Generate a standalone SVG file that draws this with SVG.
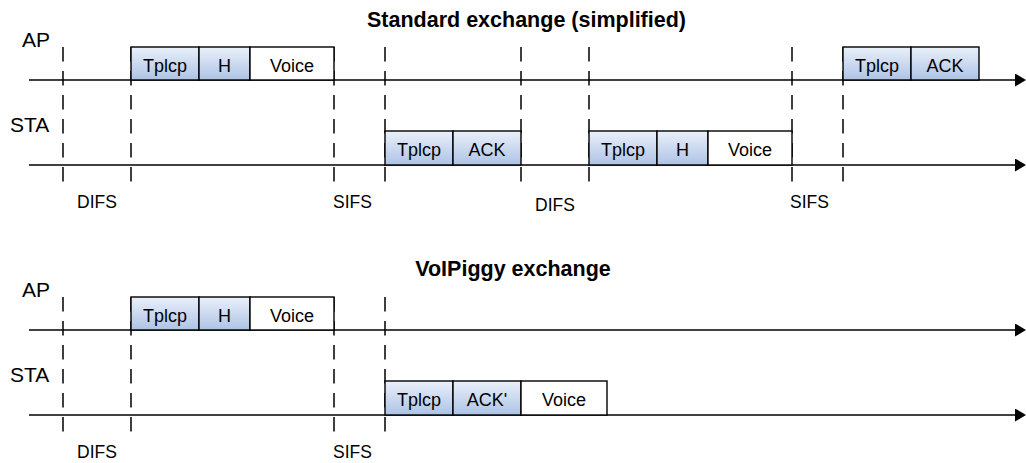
<svg xmlns="http://www.w3.org/2000/svg" width="1026" height="463" viewBox="0 0 1026 463">
<defs>
<linearGradient id="blueFill" x1="0" y1="0" x2="0" y2="1">
<stop offset="0" stop-color="#eaf0fa"/>
<stop offset="1" stop-color="#adc3e5"/>
</linearGradient>
<marker id="arrow" markerUnits="userSpaceOnUse" markerWidth="12" markerHeight="14" refX="0" refY="6.5" orient="auto">
<path d="M0,0 L11,6.5 L0,13 Z" fill="#000"/>
</marker>
</defs>
<style>
text{font-family:"Liberation Sans",Arial,Helvetica,sans-serif;fill:#000}
.title{font-size:21.5px;font-weight:bold;text-anchor:middle}
.lane{font-size:21px}
.ifs{font-size:17.5px}
.lbl{font-size:18px;text-anchor:middle}
.blue{fill:url(#blueFill);stroke:#000;stroke-width:1.4}
.white{fill:#fff;stroke:#000;stroke-width:1.4}
.axis{stroke:#000;stroke-width:1.6;fill:none}
.dash{stroke:#000;stroke-width:1.5;stroke-dasharray:14.5 9.5;fill:none}
</style>
<rect width="1026" height="463" fill="#fff"/>

<g id="titles">
<text class="title" x="526.5" y="26.5">Standard exchange (simplified)</text>
<text class="title" x="513" y="275.7">VoIPiggy exchange</text>
</g>

<g id="lane-labels">
<text class="lane" x="22" y="47">AP</text>
<text class="lane" x="10" y="131.5">STA</text>
<text class="lane" x="22" y="297">AP</text>
<text class="lane" x="10" y="381.5">STA</text>
</g>

<g id="connectors">
<line class="axis" x1="29" y1="80" x2="1015" y2="80" marker-end="url(#arrow)"/>
<line class="axis" x1="29" y1="165" x2="1015" y2="165" marker-end="url(#arrow)"/>
<line class="axis" x1="29" y1="330" x2="1015" y2="330" marker-end="url(#arrow)"/>
<line class="axis" x1="29" y1="415" x2="1015" y2="415" marker-end="url(#arrow)"/>
<path class="dash" d="M63,47V183 M131,47V183 M334,47V183 M385,47V183 M521,47V183 M589,47V183 M792,47V183 M843,47V183"/>
<path class="dash" d="M63,297V433 M131,297V433 M334,297V433 M385,297V433"/>
</g>

<g id="std-ap-data">
<rect class="blue" x="131" y="47" width="68" height="33"/>
<rect class="blue" x="199" y="47" width="51" height="33"/>
<rect class="white" x="250" y="47" width="84" height="33"/>
<text class="lbl" x="165" y="71.5">Tplcp</text>
<text class="lbl" x="224.5" y="71.5">H</text>
<text class="lbl" x="292" y="71.5">Voice</text>
</g>

<g id="std-sta-ack">
<rect class="blue" x="385" y="131" width="68" height="34"/>
<rect class="blue" x="453" y="131" width="68" height="34"/>
<text class="lbl" x="419" y="156">Tplcp</text>
<text class="lbl" x="487" y="156">ACK</text>
</g>

<g id="std-sta-data">
<rect class="blue" x="589" y="131" width="68" height="34"/>
<rect class="blue" x="657" y="131" width="51" height="34"/>
<rect class="white" x="708" y="131" width="84" height="34"/>
<text class="lbl" x="623" y="156">Tplcp</text>
<text class="lbl" x="682.5" y="156">H</text>
<text class="lbl" x="750" y="156">Voice</text>
</g>

<g id="std-ap-ack">
<rect class="blue" x="843" y="47" width="68" height="33"/>
<rect class="blue" x="911" y="47" width="68" height="33"/>
<text class="lbl" x="877" y="71.5">Tplcp</text>
<text class="lbl" x="945" y="71.5">ACK</text>
</g>

<g id="std-ifs">
<text class="ifs" x="77" y="208.3">DIFS</text>
<text class="ifs" x="333" y="208.3">SIFS</text>
<text class="ifs" x="535" y="210.5">DIFS</text>
<text class="ifs" x="790" y="208.3">SIFS</text>
</g>

<g id="vp-ap-data">
<rect class="blue" x="131" y="297" width="68" height="33"/>
<rect class="blue" x="199" y="297" width="51" height="33"/>
<rect class="white" x="250" y="297" width="84" height="33"/>
<text class="lbl" x="165" y="321.5">Tplcp</text>
<text class="lbl" x="224.5" y="321.5">H</text>
<text class="lbl" x="292" y="321.5">Voice</text>
</g>

<g id="vp-sta-ack-voice">
<rect class="blue" x="385" y="381" width="68" height="34"/>
<rect class="blue" x="453" y="381" width="68" height="34"/>
<rect class="white" x="521" y="381" width="86" height="34"/>
<text class="lbl" x="419" y="406">Tplcp</text>
<text class="lbl" x="487" y="406">ACK'</text>
<text class="lbl" x="564" y="406">Voice</text>
</g>

<g id="vp-ifs">
<text class="ifs" x="77" y="458.3">DIFS</text>
<text class="ifs" x="333" y="458.3">SIFS</text>
</g>
</svg>
